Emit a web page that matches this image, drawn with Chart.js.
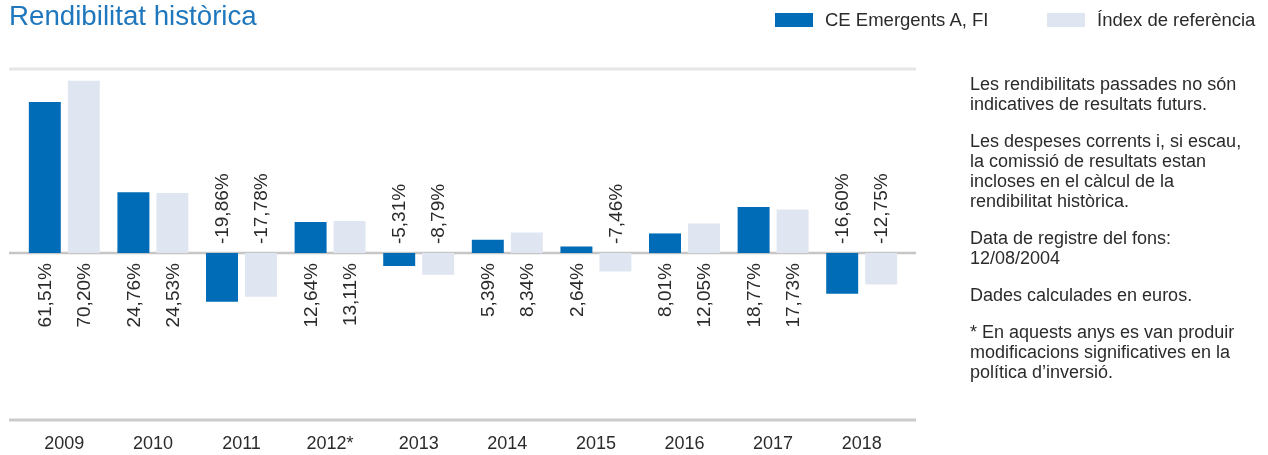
<!DOCTYPE html>
<html>
<head>
<meta charset="utf-8">
<script src="https://cdn.jsdelivr.net/npm/chart.js@4"></script>
<style>
    body { margin: 0; background: #fff; font-family: "Liberation Sans", Arial, sans-serif; }
    #wrap { position: relative; width: 1268px; height: 455px; overflow: hidden; }
    #chart { position: absolute; left: 0; top: 0; }
    .title { position: absolute; left: 9px; top: 1px; font-size: 27.7px; line-height: 30px; color: #1f77bd; }
    .legend { position: absolute; top: 10px; font-size: 18.5px; line-height: 20px; color: #2b2b2b; }
    .legend span.sw { position: absolute; top: 3px; width: 38px; height: 14px; }
    .notes { position: absolute; left: 970px; top: 74px; font-size: 18px; line-height: 20px; color: #2b2b2b; }
    .notes p { margin: 0 0 17px 0; }
</style>
</head>
<body>
<div id="wrap">
    <canvas id="chart" width="1268" height="455"></canvas>
    <div class="title">Rendibilitat històrica</div>
    <div class="legend" style="left:775px;"><span class="sw" style="left:0;background:#006bb6;"></span><span style="position:absolute;left:50px;white-space:nowrap;">CE Emergents A, FI</span></div>
    <div class="legend" style="left:1047px;"><span class="sw" style="left:0;background:#dfe6f1;"></span><span style="position:absolute;left:50px;white-space:nowrap;">Índex de referència</span></div>
    <div class="notes">
        <p>Les rendibilitats passades no són<br>indicatives de resultats futurs.</p>
        <p>Les despeses corrents i, si escau,<br>la comissió de resultats estan<br>incloses en el càlcul de la<br>rendibilitat històrica.</p>
        <p>Data de registre del fons:<br>12/08/2004</p>
        <p>Dades calculades en euros.</p>
        <p>* En aquests anys es van produir<br>modificacions significatives en la<br>política d’inversió.</p>
    </div>
</div>
<script>
const years = ['2009', '2010', '2011', '2012*', '2013', '2014', '2015', '2016', '2017', '2018'];
const fundReturns = [61.51, 24.76, -19.86, 12.64, -5.31, 5.39, 2.64, 8.01, 18.77, -16.60];
const indexReturns = [70.20, 24.53, -17.78, 13.11, -8.79, 8.34, -7.46, 12.05, 17.73, -12.75];
const seriesNames = ['CE Emergents A, FI', 'Índex de referència'];
const yRange = [-68, 75];

const fmtPct = v => v.toFixed(2).replace('.', ',') + '%';

// horizontal rules: top, zero, bottom
const rulesPlugin = {
    id: 'rules',
    beforeDatasetsDraw(chart) {
        const ctx = chart.ctx;
        const y = chart.scales.y;
        const rules = [
            { v: yRange[1], color: '#e6e6e6', w: 3 },
            { v: 0, color: '#c6c6c6', w: 2.5 },
            { v: yRange[0], color: '#cbcbcb', w: 3 }
        ];
        ctx.save();
        rules.forEach(r => {
            const py = y.getPixelForValue(r.v);
            ctx.strokeStyle = r.color;
            ctx.lineWidth = r.w;
            ctx.beginPath();
            ctx.moveTo(9, py);
            ctx.lineTo(916, py);
            ctx.stroke();
        });
        ctx.restore();
    }
};

// rotated value labels next to the zero line
const valueLabels = {
    id: 'valueLabels',
    afterDatasetsDraw(chart) {
        const ctx = chart.ctx;
        const zero = chart.scales.y.getPixelForValue(0);
        ctx.save();
        ctx.font = '19px "Liberation Sans", Arial, sans-serif';
        ctx.fillStyle = '#2b2b2b';
        ctx.textBaseline = 'middle';
        chart.data.datasets.forEach((ds, di) => {
            const meta = chart.getDatasetMeta(di);
            meta.data.forEach((bar, i) => {
                const v = ds.data[i];
                ctx.save();
                if (v >= 0) {
                    ctx.translate(bar.x + 1, zero + 10);
                    ctx.rotate(-Math.PI / 2);
                    ctx.textAlign = 'right';
                } else {
                    ctx.translate(bar.x + 1, zero - 9);
                    ctx.rotate(-Math.PI / 2);
                    ctx.textAlign = 'left';
                }
                ctx.fillText(fmtPct(v), 0, 0);
                ctx.restore();
            });
        });
        ctx.restore();
    }
};

new Chart(document.getElementById('chart'), {
    type: 'bar',
    data: {
        labels: years,
        datasets: [
            { label: seriesNames[0], data: fundReturns, backgroundColor: '#006bb6' },
            { label: seriesNames[1], data: indexReturns, backgroundColor: '#dfe6f1' }
        ]
    },
    options: {
        responsive: false,
        devicePixelRatio: 1,
        animation: false,
        layout: { padding: { left: 20, right: 362, top: 69, bottom: 0 } },
        datasets: { bar: { categoryPercentage: 0.88, barPercentage: 0.82 } },
        plugins: { legend: { display: false }, tooltip: { enabled: false } },
        scales: {
            x: {
                grid: { display: false },
                border: { display: false },
                afterFit: s => { s.height = 35; },
                ticks: {
                    color: '#2b2b2b',
                    padding: 5,
                    maxRotation: 0,
                    font: { family: '"Liberation Sans", Arial, sans-serif', size: 18 }
                }
            },
            y: { display: false, min: yRange[0], max: yRange[1] }
        }
    },
    plugins: [rulesPlugin, valueLabels]
});
</script>
</body>
</html>
